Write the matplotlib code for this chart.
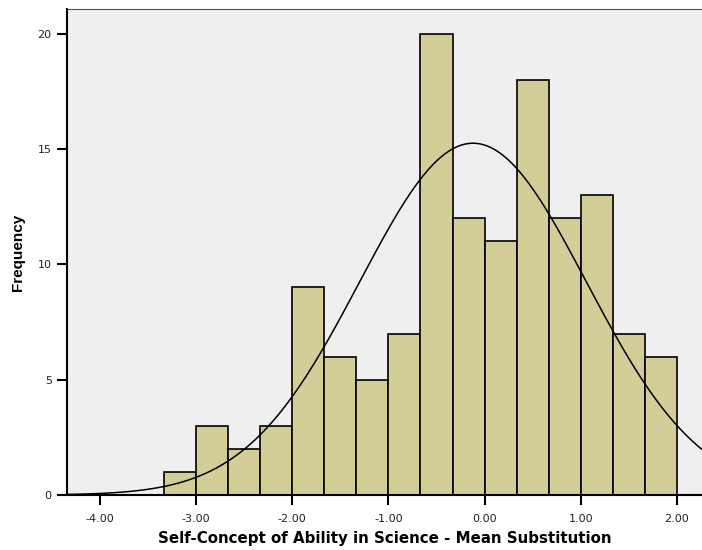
import numpy as np
import matplotlib.pyplot as plt

plt.rcParams['font.family'] = ['DejaVu Sans']

# histogram data
bin_edges = [-3.333, -3.0, -2.667, -2.333, -2.0, -1.667, -1.333, -1.0, -0.667,
             -0.333, 0.0, 0.333, 0.667, 1.0, 1.333, 1.667, 2.0]
counts = [1, 3, 2, 3, 9, 6, 5, 7, 20, 12, 11, 18, 12, 13, 7, 6]
x_ticks = [-4, -3, -2, -1, 0, 1, 2]
x_tick_labels = ['-4.00', '-3.00', '-2.00', '-1.00', '0.00', '1.00', '2.00']
y_ticks = [0, 5, 10, 15, 20]
fit_mean = -0.12
fit_sd = 1.177

fig = plt.figure(figsize=(7.02, 5.5), dpi=100)
ax = fig.add_axes([0.0954, 0.1, 0.9046, 0.8836])
ax.set_facecolor('#efefef')

edges = np.array(bin_edges)
widths = np.diff(edges)
ax.bar(edges[:-1], counts, width=widths, align='edge', color='#d3ce97',
       edgecolor='black', linewidth=1.2, zorder=2)

# normal curve scaled to N * bin width
n = sum(counts)
bw = widths.mean()
xs = np.linspace(-4.34, 2.26, 400)
ys = n * bw / (fit_sd * np.sqrt(2 * np.pi)) * np.exp(-0.5 * ((xs - fit_mean) / fit_sd) ** 2)
ax.plot(xs, ys, color='black', linewidth=1.1, zorder=3)

ax.set_xlim(-4.34, 2.26)
ax.set_ylim(0, 21.07)
ax.set_xticks(x_ticks)
ax.set_xticklabels(x_tick_labels)
ax.set_yticks(y_ticks)

ax.spines['right'].set_visible(False)
ax.spines['top'].set_color('#555555')
ax.spines['left'].set_linewidth(1.5)
ax.spines['bottom'].set_linewidth(1.5)
ax.tick_params(axis='both', length=7, width=1.5, labelsize=8, colors='black',
               labelcolor='#222222')
ax.tick_params(axis='x', pad=7)
ax.tick_params(axis='y', pad=4)

ax.set_xlabel('Self-Concept of Ability in Science - Mean Substitution',
              fontsize=10.8, fontweight='bold', labelpad=5)
ax.set_ylabel('Frequency', fontsize=11, fontweight='bold', labelpad=9,
              family=['Liberation Sans', 'DejaVu Sans'])

fig.savefig('out.png', dpi=100)
